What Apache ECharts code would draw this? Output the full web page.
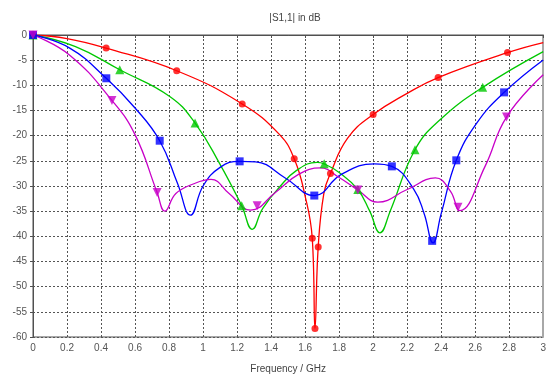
<!DOCTYPE html>
<html>
<head>
<meta charset="utf-8">
<script src="https://cdn.jsdelivr.net/npm/echarts@6/dist/echarts.min.js"></script>
<style>
html,body{margin:0;padding:0;background:#fff;}
#chart{width:549px;height:379px;}
</style>
</head>
<body>
<div id="chart"></div>
<script>
// ---- data (frequency GHz, |S1,1| dB) ----
const titleText = '|S1,1| in dB';
const xAxisName = 'Frequency / GHz';

const redCurve = [
  [0,0],[0.2,-0.7],[0.43,-2.6],[0.845,-7.1],[1.23,-13.7],[1.45,-19.8],[1.536,-24.6],[1.6,-32],
  [1.642,-40.4],[1.658,-58.3],[1.677,-42.1],[1.71,-31.5],[1.749,-27.5],[1.85,-20.5],
  [2.0,-15.8],[2.2,-11.6],[2.382,-8.45],[2.79,-3.5],[3.0,-1.5]
];
const redMarks = [
  [0,0],[0.43,-2.6],[0.845,-7.1],[1.23,-13.7],[1.536,-24.6],[1.642,-40.4],[1.658,-58.3],
  [1.677,-42.1],[1.749,-27.5],[2.0,-15.8],[2.382,-8.45],[2.79,-3.5]
];

const greenCurve = [
  [0,0],[0.25,-2.3],[0.51,-6.9],[0.804,-12.2],[0.953,-17.5],[1.095,-25.4],[1.227,-33.9],
  [1.289,-38.6],[1.35,-34.5],[1.45,-30.2],[1.55,-26.9],[1.67,-25.3],[1.712,-25.6],[1.8,-27.3],
  [1.91,-30.7],[1.98,-35],[2.04,-39.3],[2.1,-35],[2.246,-22.8],[2.395,-16.8],
  [2.644,-10.4],[3.0,-3.3]
];
const greenMarks = [
  [0,0],[0.51,-6.9],[0.953,-17.5],[1.227,-33.9],[1.712,-25.6],[1.91,-30.7],[2.246,-22.8],[2.644,-10.4]
];

const blueCurve = [
  [0,0],[0.216,-2.6],[0.431,-8.6],[0.6,-14.5],[0.745,-21],[0.85,-29.5],[0.926,-35.8],
  [1.0,-30],[1.1,-26.3],[1.215,-25.1],[1.309,-25.2],[1.483,-28.4],
  [1.654,-31.9],[1.813,-27.7],[2.007,-25.6],[2.11,-26.1],
  [2.24,-30.7],[2.3,-35.5],[2.352,-41.3],[2.4,-35.5],[2.489,-24.9],[2.609,-17.5],
  [2.77,-11.4],[3.0,-4.95]
];
const blueMarks = [
  [0,0],[0.431,-8.6],[0.745,-21],[1.215,-25.1],[1.654,-31.9],[2.11,-26.1],[2.347,-40.9],[2.489,-24.9],[2.77,-11.4]
];

const magentaCurve = [
  [0,0],[0.216,-4],[0.464,-13],[0.6,-19.8],[0.73,-31.3],[0.775,-35],
  [0.84,-31.5],[0.95,-29.5],[1.047,-28.7],[1.153,-31.5],[1.28,-34.8],
  [1.425,-31.3],[1.561,-27.7],[1.69,-26.4],[1.8,-28.3],
  [1.91,-30.8],[2.027,-33.2],[2.2,-30.7],[2.366,-28.4],
  [2.454,-31],[2.51,-34.9],[2.658,-26.1],[2.784,-16.3],[3.0,-7.9]
];
const magentaMarks = [
  [0,0],[0.464,-13],[0.73,-31.3],[1.318,-33.9],[1.91,-30.8],[2.499,-34.2],[2.784,-16.3]
];

const xMin = 0, xMax = 3, xStep = 0.2;
const yMin = -60, yMax = 0, yStep = 5;

// ---- chart ----
const font = 'Liberation Sans';
const curves = [
  {curve: redCurve, marks: redMarks, color: '#ff0000', symbol: 'circle', size: 7},
  {curve: greenCurve, marks: greenMarks, color: '#00c800', symbol: 'triangle', size: 9},
  {curve: blueCurve, marks: blueMarks, color: '#0000ff', symbol: 'rect', size: 8},
  {curve: magentaCurve, marks: magentaMarks, color: '#c800c8', symbol: 'path://M0,0 L10,0 L5,9 Z', size: 9}
];
const series = [];
curves.forEach(c => {
  series.push({
    type: 'line', data: c.curve, smooth: 0.45, showSymbol: false, symbol: 'none',
    lineStyle: {color: c.color, width: 1.3}, z: 3, animation: false, clip: true
  });
  series.push({
    type: 'scatter', data: c.marks, symbol: c.symbol, symbolSize: c.size,
    itemStyle: {color: c.color}, z: 4, animation: false
  });
});

const chart = echarts.init(document.getElementById('chart'), null, {renderer: 'canvas'});
chart.setOption({
  animation: false,
  backgroundColor: '#ffffff',
  title: {
    text: titleText, left: 290, top: 8, textAlign: 'center',
    textStyle: {fontFamily: font, fontSize: 10, fontWeight: 'normal', color: '#444'}
  },
  grid: {left: 33, right: 2, top: 35, bottom: 41, show: true, borderColor: '#505050', borderWidth: 1},
  xAxis: [{
    type: 'value', min: xMin, max: xMax, interval: xStep,
    name: xAxisName, nameLocation: 'middle', nameGap: 27,
    nameTextStyle: {fontFamily: font, fontSize: 10, color: '#444'},
    axisLine: {show: true, lineStyle: {color: '#505050', width: 1}},
    axisTick: {show: true, length: 3, lineStyle: {color: '#505050'}},
    axisLabel: {fontFamily: font, fontSize: 10, color: '#555', margin: 6,
      formatter: v => String(Math.round(v * 10) / 10)},
    splitLine: {show: true, lineStyle: {color: '#555', type: [2, 2], width: 1}}
  }],
  yAxis: [{
    type: 'value', min: yMin, max: yMax, interval: yStep,
    axisLine: {show: true, lineStyle: {color: '#505050', width: 1}},
    axisTick: {show: true, length: 3, lineStyle: {color: '#505050'}},
    axisLabel: {fontFamily: font, fontSize: 10, color: '#555', margin: 6},
    splitLine: {show: true, lineStyle: {color: '#555', type: [2, 2], width: 1}}
  }, {
    type: 'value', position: 'right', min: yMin, max: yMax, interval: yStep,
    axisLine: {show: true, lineStyle: {color: '#a8a8a8', width: 2}},
    axisTick: {show: false}, axisLabel: {show: false}, splitLine: {show: false}
  }],
  series: series
});
</script>
</body>
</html>
